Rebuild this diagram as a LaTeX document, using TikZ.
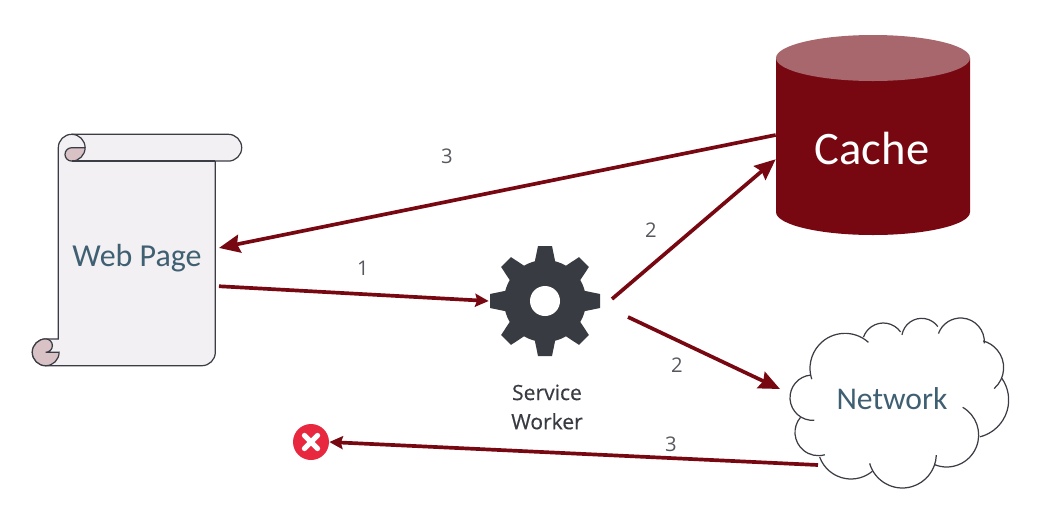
\documentclass[tikz,border=0pt]{standalone}
\usepackage{fontspec}
\setmainfont{Carlito}
\newfontfamily\labelfont{Open Sans}
\newfontfamily\workerfont[FakeBold=.45]{Open Sans}
\usetikzlibrary{arrows.meta}
\definecolor{flowred}{HTML}{770811}
\definecolor{cachetop}{HTML}{A8666D}
\definecolor{gearfill}{HTML}{383B41}
\definecolor{inkline}{HTML}{3C3C44}
\definecolor{bluetext}{HTML}{3F5F72}
\definecolor{paper}{HTML}{F2F0F2}
\definecolor{curl}{HTML}{D8C2C6}
\definecolor{crossred}{HTML}{E8283F}
\tikzset{
  flow/.style={->,line width=2.1pt,draw=flowred},
  flowsmall/.style={flow,>={Stealth[length=.27cm,width=.26cm,inset=.04cm]}},
  num/.style={font=\labelfont\fontsize{11.5}{13}\selectfont,text=gearfill!85},
  bigtext/.style={text=bluetext,inner sep=0pt},
  outline/.style={draw=inkline,line width=.7pt},
}
\begin{document}
\begin{tikzpicture}[x=.02cm,y=-.02cm,>={Stealth[length=.42cm,width=.36cm,inset=.05cm]}]
\useasboundingbox (0,0) rectangle (1041,528);

% scroll
\filldraw[outline,fill=paper] (58.3,147.7) arc[start angle=180,end angle=270,radius=13.4]
  -- (228.3,134.3) arc[start angle=270,end angle=450,radius=13.4]
  -- (215.3,161.1) -- (215.3,352.3) arc[start angle=0,end angle=90,radius=13.4]
  -- (45.7,365.7) arc[start angle=90,end angle=270,radius=13.4]
  -- (58.3,338.9) -- cycle;
\draw[outline] (71.7,134.3) arc[start angle=270,end angle=360,radius=13.4];
\filldraw[outline,fill=curl] (85.1,147.7) arc[start angle=0,end angle=90,radius=13.4]
  arc[start angle=90,end angle=270,radius=6.7] -- cycle;
\draw[outline] (71.7,161.1) -- (215.3,161.1);
\filldraw[outline,fill=curl] (45.7,338.9) arc[start angle=270,end angle=90,radius=13.4]
  arc[start angle=90,end angle=0,radius=13.4] -- (45.7,352.3)
  arc[start angle=90,end angle=-90,radius=6.7];
\node[bigtext,font=\fontsize{18.2}{22}\selectfont,minimum width=3.14cm,minimum height=4.32cm,outer sep=.07cm] (page) at (137,258) {Web Page};

% cache
\fill[flowred] (776,58) -- (776,212) arc[start angle=180,end angle=0,x radius=97,y radius=23] -- (970,58) -- cycle;
\fill[cachetop] (873,58) ellipse [x radius=97,y radius=23];
\node[minimum width=3.88cm,minimum height=4cm,inner sep=0pt] (cache) at (873,135) {};
\node[text=white,inner sep=0pt,font=\fontsize{26.5}{30}\selectfont] (cachetext) at (872,149) {Cache};

% gear
\node[circle,minimum size=2.24cm,inner sep=0pt] (gear) at (545,301) {};
\begin{scope}[shift={(545,301)}]
\fill[gearfill] (0,0) circle [radius=41];
\foreach \a in {0,45,...,315}
{
   \fill[gearfill,rotate=\a] (-10.5,-38) -- (-7,-55) -- (7,-55) -- (10.5,-38) -- cycle;
}
\fill[white] (0,0) circle [radius=15];
\end{scope}
\node[font=\workerfont\fontsize{12}{16.6}\selectfont,text=gearfill,align=center,inner sep=0pt] (sw) at (547,407) {Service\\Worker};

% cloud
\begin{scope}[shift={(770,300)},x=.02cm/3,y=-.02cm/3]
\foreach \cx/\cy/\r/\s/\e in {128/293/68/266/86, 145/397/70/220/74, 243/437/100/160/50,
  397/462/102/164/2, 530/405/96/112/-60, 602/300/114/76/-35, 618/203/83/49/-75,
  572/125/71/4/-160, 455/115/60/-36/-170, 340/132/63/-35/-161, 225/205/105/-48/-198}
{
   \draw[outline] (\cx,\cy) ++(\s:\r) arc[start angle=\s,end angle=\e,radius=\r];
}
\end{scope}
\node[bigtext,font=\fontsize{18}{22}\selectfont] (network) at (892,399) {Network};
\coordinate (netin) at (780,389);
\coordinate (netout) at (818,465);

% cross
\node[circle,fill=crossred,minimum size=.72cm,inner sep=0pt] (cross) at (311,442) {};
\draw[white,line width=3pt,line cap=round] (304.5,435.5) -- (317.5,448.5) (317.5,435.5) -- (304.5,448.5);

% arrows
\coordinate (gearup) at (612,299);
\coordinate (geardown) at (628,317);
\draw[flowsmall] (page.-19) -- (gear.west);
\draw[flow] (gearup) -- (cache.194.4);
\draw[flow] (geardown) -- (netin);
\draw[flow] (cache.west) -- (page.7.5);
\draw[flowsmall] (netout) -- (cross.east);

\node[num] (n1) at (363,268) {1};
\node[num] (n2a) at (651,230) {2};
\node[num] (n2b) at (677,365) {2};
\node[num] (n3a) at (447,156) {3};
\node[num] (n3b) at (671,444) {3};
\end{tikzpicture}
\end{document}
